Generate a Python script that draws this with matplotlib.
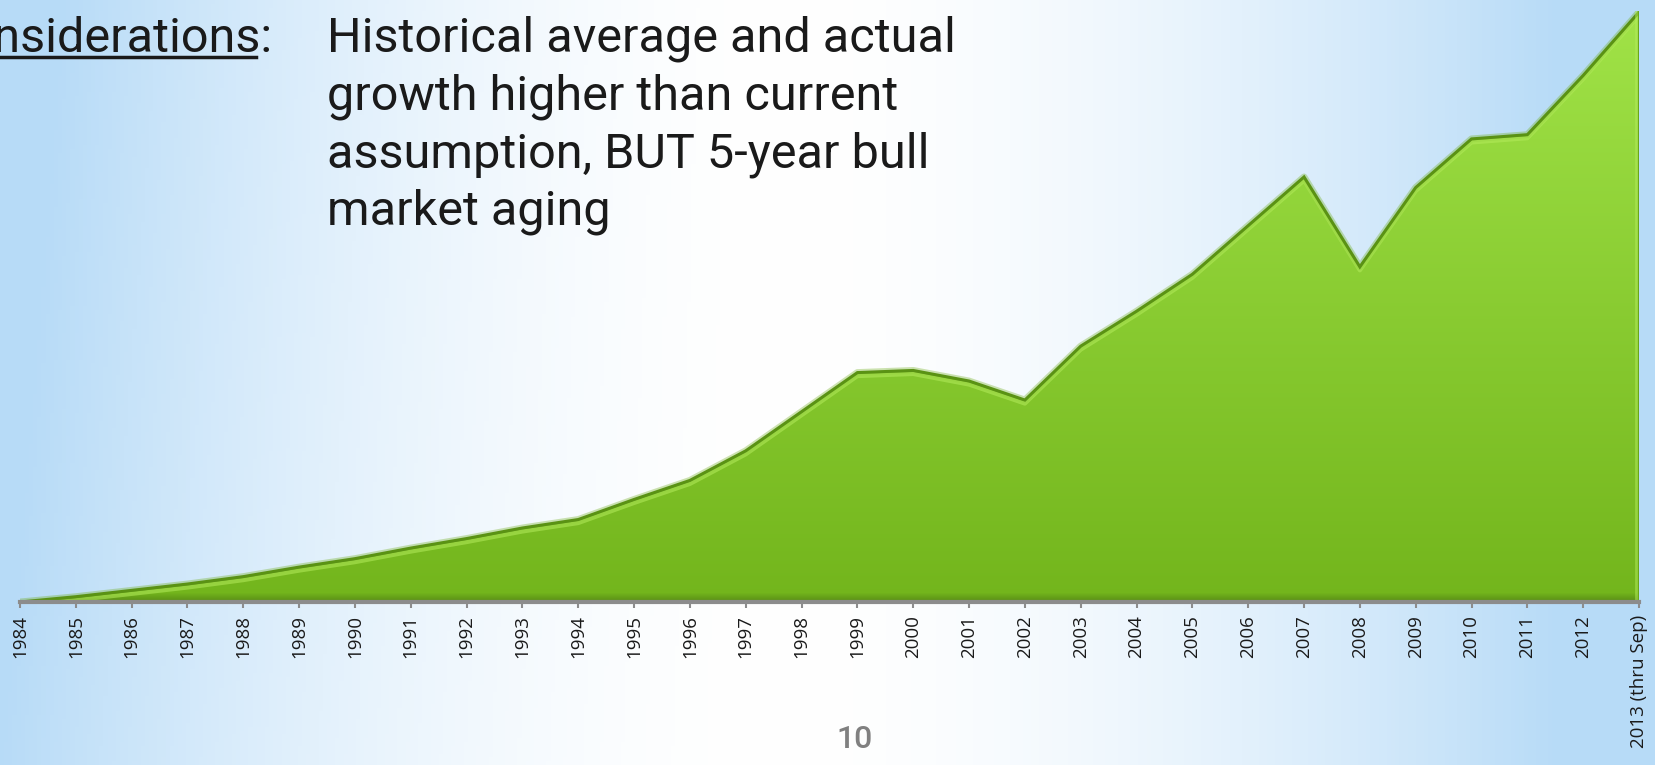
import numpy as np
import matplotlib.pyplot as plt
import matplotlib.transforms as mtransforms
from matplotlib.patches import Polygon
from matplotlib.lines import Line2D

# data (relative index; no y scale shown)
years = [str(y) for y in range(1984, 2013)] + ['2013 (thru Sep)']
values = [0, 5, 11, 17, 24, 33, 41, 51, 60, 70,
          78, 97, 115, 143, 180, 217, 219, 209, 191, 242,
          275, 310, 356, 402, 317, 392, 438, 442, 498, 558]
header = 'Considerations:'
comment_lines = ['Historical average and actual',
                 'growth higher than current',
                 'assumption, BUT 5-year bull',
                 'market aging']
page_no = '10'

W, H = 1656, 765
fig = plt.figure(figsize=(W/100, H/100), dpi=100)

# slide background: blue at the edges, white in the middle
bg = fig.add_axes([0, 0, 1, 1], zorder=-5)
gx, gy = np.meshgrid(np.linspace(0, 1, 400), np.linspace(0, 1, 200))
t = np.clip(np.abs(gx - 0.47) / 0.47, 0, 1) ** 1.8
t = np.clip(t + 0.15 * (1 - gy) * np.clip(1 - gx * 2.2, 0, 1), 0, 1)
blue = np.array([0.72, 0.86, 0.97])
img = 1 - t[..., None] * (1 - blue)
bg.imshow(img, extent=[0, 1, 0, 1], aspect='auto', origin='upper')
bg.axis('off')

left, right = 20/W, 1639/W
bottom, top = (H - 602)/H, (H - 11)/H
ax = fig.add_axes([left, bottom, right - left, top - bottom])
ax.patch.set_alpha(0)
x = np.arange(len(values))
ax.set_xlim(0, len(values) - 1)
ax.set_ylim(0, max(values) + 1)

# gradient filled area, with a darker shadow band along the bottom
verts = np.column_stack([x, values])
verts = np.vstack([verts, [[x[-1], 0], [0, 0]]])
poly = Polygon(verts, closed=True, facecolor='none', edgecolor='none')
ax.add_patch(poly)
nrows = 590
grad = np.linspace(1, 0, nrows)[:, None]
c_top = np.array([0.63, 0.89, 0.28])
c_bot = np.array([0.45, 0.71, 0.11])
gimg = c_bot + grad[..., None] * (c_top - c_bot)
shade = np.ones(nrows)
shade[-10:] = np.linspace(1, 0.78, 10)
gimg = gimg * shade[:, None, None]
gimg = np.repeat(gimg, 2, axis=1)
im = ax.imshow(gimg, extent=[0, x[-1], 0, max(values) + 1], aspect='auto',
               origin='upper', zorder=1)
im.set_clip_path(poly)

# bevel edges
ax.plot(x, values, color='#6fae1c', lw=5, alpha=0.35, zorder=2)
shift = mtransforms.offset_copy(ax.transData, fig=fig, x=0, y=-3.5, units='dots')
ax.plot(x, values, color='#b4ec5c', lw=3, alpha=0.55, transform=shift, zorder=3)
ax.plot(x, values, color='#5a9214', lw=2.2, zorder=3, solid_joinstyle='miter')
ax.plot([x[-1], x[-1]], [0, values[-1]], color='#6aa71a', lw=2.5, zorder=3)
vshift = mtransforms.offset_copy(ax.transData, fig=fig, x=-3, y=0, units='dots')
ax.plot([x[-1], x[-1]], [0, values[-1]], color='#b4ec5c', lw=2, alpha=0.5,
        transform=vshift, zorder=3)

for s in ['top', 'left', 'right']:
    ax.spines[s].set_visible(False)
ax.spines['bottom'].set_color('#8c8c8c')
ax.spines['bottom'].set_linewidth(3)
ax.spines['bottom'].set_zorder(4)
ax.set_yticks([])
ax.set_xticks(x)
ax.set_xticklabels(years, rotation=90, fontsize=13.5, family=['Open Sans', 'DejaVu Sans'],
                   color='#1a1a1a')
ax.tick_params(axis='x', length=4.3, width=1.5, color='#8c8c8c', pad=5)

# slide text
font = ['Roboto', 'DejaVu Sans']
fig.text(272/W, 1 - 52/H, header, ha='right', va='baseline', fontsize=35,
         family=font, color='#1a1a1a')
fig.add_artist(Line2D([0, 256/W], [1 - 57/H, 1 - 57/H], color='#1a1a1a', lw=2.5))
for i, line in enumerate(comment_lines):
    fig.text(327/W, 1 - (52 + 57.5*i)/H, line, ha='left', va='baseline',
             fontsize=35, family=font, color='#1a1a1a')
fig.text(855/W, 1 - 739/H, page_no, ha='center', va='center', fontsize=23,
         family=font, color='#808080', weight='medium')

fig.savefig('out.png', dpi=100)
